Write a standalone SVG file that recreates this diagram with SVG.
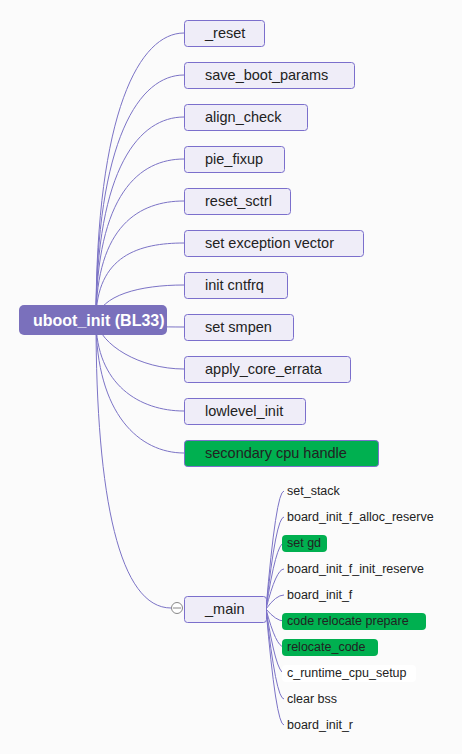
<svg xmlns="http://www.w3.org/2000/svg" width="462" height="754" viewBox="0 0 462 754">
<style>
.bg{fill:#fbfbfb}
.ln{fill:none;stroke:#7b73c6;stroke-width:1}
.bx{fill:#efedf8;stroke:#7b6fcc;stroke-width:1}
.gbx{fill:#00b050;stroke:#7b6fcc;stroke-width:1}
.t{font-family:"Liberation Sans",Arial,sans-serif;font-size:14.5px;fill:#222}
.s{font-family:"Liberation Sans",Arial,sans-serif;font-size:12.5px;fill:#222}
.g{fill:#00b050}
</style>
<rect class="bg" x="0" y="0" width="462" height="754"/>
<g id="connectors">
<path class="ln" d="M96 320 C96 110,140 33,184 33"/>
<path class="ln" d="M96 320 C96 137,140 75,184 75"/>
<path class="ln" d="M96 320 C96 166,140 117,184 117"/>
<path class="ln" d="M96 320 C96 193,140 159,184 159"/>
<path class="ln" d="M96 320 C96 225,140 201,184 201"/>
<path class="ln" d="M96 320 C96 255,140 243,184 243"/>
<path class="ln" d="M96 320 C100 295,140 285,184 285"/>
<path class="ln" d="M96 320 C110 325,140 327,184 327"/>
<path class="ln" d="M96 320 C100 345,140 369,184 369"/>
<path class="ln" d="M96 320 C96 385,140 411,184 411"/>
<path class="ln" d="M96 320 C96 415,140 453,184 453"/>
<path class="ln" d="M96 320 C96 500,120 608,171 608"/>
<path class="ln" d="M266 609 Q276 491 284 491"/>
<path class="ln" d="M266 609 Q276 517 284 517"/>
<path class="ln" d="M266 609 Q276 543 284 543"/>
<path class="ln" d="M266 609 Q276 569 284 569"/>
<path class="ln" d="M266 609 Q276 595 284 595"/>
<path class="ln" d="M266 609 Q276 621 284 621"/>
<path class="ln" d="M266 609 Q276 647 284 647"/>
<path class="ln" d="M266 609 Q276 673 284 673"/>
<path class="ln" d="M266 609 Q276 699 284 699"/>
<path class="ln" d="M266 609 Q276 725 284 725"/>
</g>
<g id="root">
<rect x="19" y="305" width="148" height="30" rx="5" fill="#7a70bc"/>
<text x="33" y="326" font-family="Liberation Sans,Arial,sans-serif" font-size="16" font-weight="bold" fill="#fff">uboot_init (BL33)</text>
</g>
<g id="n_reset"><rect class="bx" x="184.5" y="20.5" width="80" height="26" rx="3"/><text class="t" x="205" y="38">_reset</text></g>
<g id="n_save_boot_params"><rect class="bx" x="184.5" y="62.5" width="170" height="26" rx="3"/><text class="t" x="205" y="80">save_boot_params</text></g>
<g id="n_align_check"><rect class="bx" x="184.5" y="104.5" width="123" height="26" rx="3"/><text class="t" x="205" y="122">align_check</text></g>
<g id="n_pie_fixup"><rect class="bx" x="184.5" y="146.5" width="100" height="26" rx="3"/><text class="t" x="205" y="164">pie_fixup</text></g>
<g id="n_reset_sctrl"><rect class="bx" x="184.5" y="188.5" width="106" height="26" rx="3"/><text class="t" x="205" y="206">reset_sctrl</text></g>
<g id="n_set_exception_vector"><rect class="bx" x="184.5" y="230.5" width="179" height="26" rx="3"/><text class="t" x="205" y="248">set exception vector</text></g>
<g id="n_init_cntfrq"><rect class="bx" x="184.5" y="272.5" width="103" height="26" rx="3"/><text class="t" x="205" y="290">init cntfrq</text></g>
<g id="n_set_smpen"><rect class="bx" x="184.5" y="314.5" width="109" height="26" rx="3"/><text class="t" x="205" y="332">set smpen</text></g>
<g id="n_apply_core_errata"><rect class="bx" x="184.5" y="356.5" width="166" height="26" rx="3"/><text class="t" x="205" y="374">apply_core_errata</text></g>
<g id="n_lowlevel_init"><rect class="bx" x="184.5" y="398.5" width="121" height="26" rx="3"/><text class="t" x="205" y="416">lowlevel_init</text></g>
<g id="n_secondary_cpu_handle"><rect class="gbx" x="184.5" y="440.5" width="194" height="26" rx="3"/><text class="t" x="205" y="458">secondary cpu handle</text></g>
<g id="n_main">
<circle cx="177" cy="608" r="5.5" fill="#fff" stroke="#888" stroke-width="1"/>
<line x1="173" y1="608" x2="181" y2="608" stroke="#888" stroke-width="1"/>
<rect class="bx" x="184.5" y="596.5" width="82" height="26" rx="3"/><text class="t" x="205" y="614">_main</text>
</g>
<g id="m_set_stack"><text class="s" x="287" y="495">set_stack</text></g>
<g id="m_board_init_f_alloc_reserve"><text class="s" x="287" y="521">board_init_f_alloc_reserve</text></g>
<g id="m_set_gd"><rect class="g" x="282" y="535" width="45" height="17" rx="4"/><text class="s" x="287" y="547">set gd</text></g>
<g id="m_board_init_f_init_reserve"><text class="s" x="287" y="573">board_init_f_init_reserve</text></g>
<g id="m_board_init_f"><text class="s" x="287" y="599">board_init_f</text></g>
<g id="m_code_relocate_prepare"><rect class="g" x="282" y="613" width="144" height="17" rx="4"/><text class="s" x="287" y="625">code relocate prepare</text></g>
<g id="m_relocate_code"><rect class="g" x="282" y="639" width="96" height="17" rx="4"/><text class="s" x="287" y="651">relocate_code</text></g>
<g id="m_c_runtime_cpu_setup"><rect fill="#fff" x="282" y="665" width="134" height="17" rx="4"/><text class="s" x="287" y="677">c_runtime_cpu_setup</text></g>
<g id="m_clear_bss"><text class="s" x="287" y="703">clear bss</text></g>
<g id="m_board_init_r"><text class="s" x="287" y="729">board_init_r</text></g>
</svg>
